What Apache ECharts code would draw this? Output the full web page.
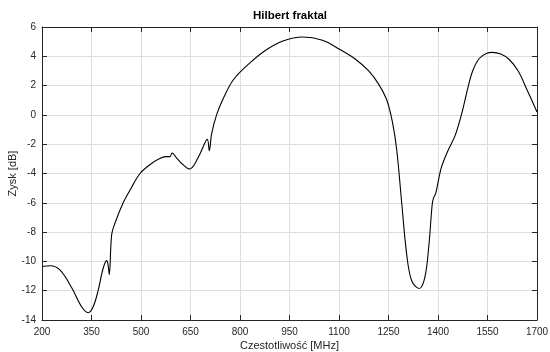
<!DOCTYPE html>
<html>
<head>
<meta charset="utf-8">
<script src="https://cdn.jsdelivr.net/npm/echarts@6/dist/echarts.min.js"></script>
<style>html,body{margin:0;padding:0;background:#fff}#c{width:550px;height:352px}</style>
</head>
<body>
<div id="c"></div>
<script>
const freq = [200,225,255,290,320,340,355,370,385,396,400,404,411,421,446,470,497,527,555,575,588,594,610,630,646,660,680,701,707,714,729,750,780,830,880,930,990,1050,1100,1150,1190,1220,1245,1262,1275,1290,1305,1320,1343,1360,1372,1382,1386,1393,1410,1430,1452,1472,1490,1505,1525,1548,1565,1590,1615,1643,1670,1700];
const gain = [-10.35,-10.3,-10.6,-11.8,-13.1,-13.5,-13.1,-12.0,-10.5,-9.95,-10.2,-10.9,-8.2,-7.4,-6.0,-5.0,-4.0,-3.4,-3.0,-2.85,-2.85,-2.6,-3.0,-3.45,-3.69,-3.45,-2.6,-1.67,-2.44,-1.3,0.0,1.15,2.4,3.55,4.45,5.05,5.32,5.1,4.5,3.8,3.0,2.1,1.0,-0.5,-2.4,-6.0,-9.5,-11.3,-11.85,-11.1,-9.0,-6.2,-5.7,-5.35,-3.6,-2.45,-1.4,0.1,1.8,3.0,3.85,4.2,4.27,4.15,3.8,3.0,1.7,0.2];
const xRange = {min:200, max:1700, interval:150};
const yRange = {min:-14, max:6, interval:2};
const titleText = 'Hilbert fraktal';
const xName = 'Czestotliwość [MHz]';
const yName = 'Zysk [dB]';

const FONT = 'Liberation Sans';
const axisCol = '#262626';
const tickCommon = {show:true, inside:true, length:5, lineStyle:{color:axisCol, width:1}};
const plain = v => String(v);
const chart = echarts.init(document.getElementById('c'), null, {renderer:'canvas'});
chart.setOption({
  animation:false,
  backgroundColor:'#fff',
  title:{text:titleText, left:290, top:10, textAlign:'center', padding:0,
    textStyle:{fontFamily:FONT, fontSize:11.5, fontWeight:'bold', color:'#000'}},
  grid:{left:42, right:13, top:27, bottom:32, containLabel:false, outerBoundsMode:'none'},
  xAxis:[{
    type:'value', min:xRange.min, max:xRange.max, interval:xRange.interval,
    position:'bottom',
    name:xName, nameLocation:'middle', nameGap:20, nameMoveOverlap:false,
    nameTextStyle:{fontFamily:FONT, fontSize:11, color:axisCol},
    axisLine:{show:true, onZero:false, lineStyle:{color:axisCol, width:1}},
    axisTick:tickCommon,
    axisLabel:{fontFamily:FONT, fontSize:10, color:axisCol, margin:7, formatter:plain},
    splitLine:{show:true, lineStyle:{color:'#dedede', width:1}}
  },{
    type:'value', min:xRange.min, max:xRange.max, interval:xRange.interval,
    position:'top',
    axisLine:{show:true, onZero:false, lineStyle:{color:axisCol, width:1}},
    axisTick:tickCommon, axisLabel:{show:false}, splitLine:{show:false}
  }],
  yAxis:[{
    type:'value', min:yRange.min, max:yRange.max, interval:yRange.interval,
    position:'left',
    name:yName, nameLocation:'middle', nameGap:24, nameRotate:90, nameMoveOverlap:false,
    nameTextStyle:{fontFamily:FONT, fontSize:11, color:axisCol},
    axisLine:{show:true, onZero:false, lineStyle:{color:axisCol, width:1}},
    axisTick:tickCommon,
    axisLabel:{fontFamily:FONT, fontSize:10, color:axisCol, margin:6, formatter:plain},
    splitLine:{show:true, lineStyle:{color:'#dedede', width:1}}
  },{
    type:'value', min:yRange.min, max:yRange.max, interval:yRange.interval,
    position:'right',
    axisLine:{show:true, onZero:false, lineStyle:{color:axisCol, width:1}},
    axisTick:tickCommon, axisLabel:{show:false}, splitLine:{show:false}
  }],
  series:[{
    type:'line', xAxisIndex:0, yAxisIndex:0,
    data:freq.map((f,i)=>[f,gain[i]]),
    showSymbol:false, smooth:0.35,
    lineStyle:{color:'#000', width:1.1}
  }]
});
</script>
</body>
</html>
